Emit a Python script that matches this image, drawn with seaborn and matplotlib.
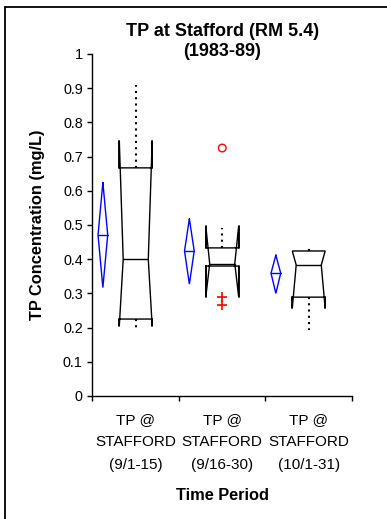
import matplotlib
matplotlib.use("Agg")
import matplotlib.pyplot as plt
import seaborn as sns
import pandas as pd
from matplotlib.lines import Line2D

# --- data -----------------------------------------------------------------
periods = ["TP @\nSTAFFORD\n(9/1-15)", "TP @\nSTAFFORD\n(9/16-30)", "TP @\nSTAFFORD\n(10/1-31)"]

# mean and its confidence interval (diamonds)
mean_val = [0.471, 0.424, 0.359]
mean_lo = [0.317, 0.327, 0.300]
mean_hi = [0.624, 0.518, 0.412]

# notched box statistics
q1 = [0.225, 0.380, 0.289]
median = [0.400, 0.387, 0.383]
q3 = [0.667, 0.433, 0.424]
notch_lo = [0.205, 0.290, 0.257]
notch_hi = [0.746, 0.497, 0.424]
whisker_lo = [0.191, 0.380, 0.193]
whisker_hi = [0.909, 0.490, 0.433]

# outlying values
far_out_period = [1]
far_out_val = [0.725]
near_out_period = [1, 1]
near_out_val = [0.290, 0.266]

yticks = [0.0, 0.1, 0.2, 0.3, 0.4, 0.5, 0.6, 0.7, 0.8, 0.9, 1.0]
ytick_labels = ["0", "0.1", "0.2", "0.3", "0.4", "0.5", "0.6", "0.7", "0.8", "0.9", "1"]

# --- style ------------------------------------------------------------------
sns.set_theme(style="ticks")
plt.rcParams["font.family"] = ["Liberation Sans", "DejaVu Sans"]

fig = plt.figure(figsize=(3.87, 5.19), dpi=100)
fig.patch.set_facecolor("white")
ax = fig.add_axes([0.239, 0.237, 0.6705, 0.659])
ax.set_facecolor("white")

BOX_HALF = 0.19
NOTCH_HALF = 0.145
DIAMOND_OFFSET = -0.38
DIAMOND_HALF = 0.056

for i in range(len(periods)):
    # mean diamond
    cx = i + DIAMOND_OFFSET
    ax.plot([cx, cx + DIAMOND_HALF, cx, cx - DIAMOND_HALF, cx],
            [mean_hi[i], mean_val[i], mean_lo[i], mean_val[i], mean_hi[i]],
            color="#0000ff", lw=1.0, solid_joinstyle="miter")
    ax.plot([cx - DIAMOND_HALF, cx + DIAMOND_HALF], [mean_val[i]] * 2,
            color="#0000ff", lw=1.0)

    # notched box outline
    L, R = i - BOX_HALF, i + BOX_HALF
    nL, nR = i - NOTCH_HALF, i + NOTCH_HALF
    xs = [L, R, R, nR, R, R, L, L, nL, L, L]
    ys = [q1[i], q1[i], notch_lo[i], median[i], notch_hi[i], q3[i],
          q3[i], notch_hi[i], median[i], notch_lo[i], q1[i]]
    ax.plot(xs, ys, color="black", lw=1.0, solid_joinstyle="miter")
    # notch extensions beyond the hinges
    for xe in (L, R):
        if notch_hi[i] > q3[i]:
            ax.plot([xe, xe], [q3[i], notch_hi[i]], color="black", lw=1.3)
        if notch_lo[i] < q1[i]:
            ax.plot([xe, xe], [notch_lo[i], q1[i]], color="black", lw=1.3)
    ax.plot([nL, nR], [median[i]] * 2, color="black", lw=1.0)

    # dotted whiskers
    if whisker_hi[i] > q3[i]:
        ax.plot([i, i], [q3[i], whisker_hi[i]], color="black", lw=1.5,
                linestyle=(0, (1, 2)), dash_capstyle="butt")
    if whisker_lo[i] < q1[i]:
        ax.plot([i, i], [q1[i], whisker_lo[i]], color="black", lw=1.5,
                linestyle=(0, (1, 2)), dash_capstyle="butt")

far_df = pd.DataFrame({"period": far_out_period, "value": far_out_val})
near_df = pd.DataFrame({"period": near_out_period, "value": near_out_val})
sns.scatterplot(data=far_df, x="period", y="value", marker="o", s=30,
                facecolors="none", edgecolor="red", linewidth=1.0, ax=ax, zorder=5)
sns.scatterplot(data=near_df, x="period", y="value", marker="+", s=55,
                color="red", linewidth=1.2, ax=ax, zorder=5)

# --- axes -------------------------------------------------------------------
ax.set_xlim(-0.5, 2.5)
ax.set_ylim(0, 1)
ax.set_yticks(yticks)
ax.set_yticklabels(ytick_labels)
ax.set_xticks([-0.5, 0.5, 1.5, 2.5])
ax.set_xticklabels([])
ax.set_xticks([0, 1, 2], minor=True)
ax.set_xticklabels(periods, minor=True, linespacing=1.8)
ax.tick_params(axis="x", which="major", length=3.5, width=1.0, color="black", direction="out")
ax.tick_params(axis="x", which="minor", length=0, pad=12, labelsize=11, labelcolor="black")
ax.tick_params(axis="y", length=3.5, width=1.0, color="black", direction="out",
               pad=3.5, labelsize=10.4, labelcolor="black")
for side in ("top", "right"):
    ax.spines[side].set_visible(False)
for side in ("left", "bottom"):
    ax.spines[side].set_color("black")
    ax.spines[side].set_linewidth(1.0)
ax.grid(False)

ax.set_xlabel("Time Period", fontsize=11.8, fontweight="bold", labelpad=11, color="black")
ax.set_ylabel("TP Concentration (mg/L)", fontsize=11.8, fontweight="bold", labelpad=13, color="black")

fig.text(222.5 / 387, 1 - 32 / 519, "TP at Stafford (RM 5.4)", ha="center", va="center",
         fontsize=13, fontweight="bold", color="black")
fig.text(222.5 / 387, 1 - 52 / 519, "(1983-89)", ha="center", va="center",
         fontsize=13, fontweight="bold", color="black")

# outer frame (left and top edges)
fig.add_artist(Line2D([4.5 / 387, 4.5 / 387], [0, 1 - 7 / 519], transform=fig.transFigure,
                      color="black", lw=1.3))
fig.add_artist(Line2D([4.5 / 387, 1], [1 - 7 / 519, 1 - 7 / 519], transform=fig.transFigure,
                      color="black", lw=1.3))

fig.savefig("out.png", dpi=100)
